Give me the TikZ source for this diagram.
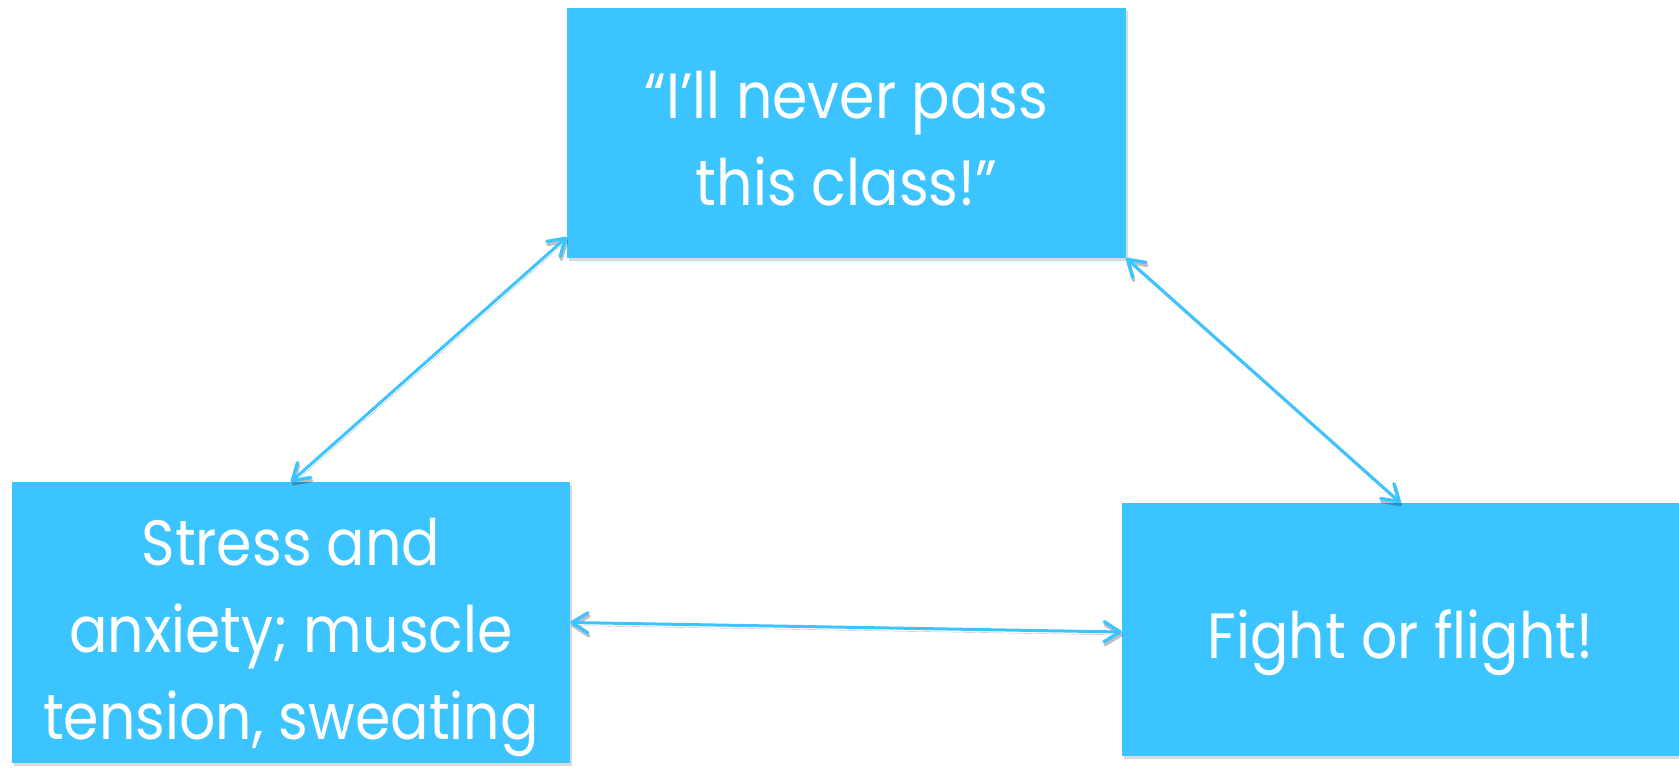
\documentclass[tikz,border=0pt]{standalone}
\usepackage{fontspec}
\setmainfont{Poppins}[FakeStretch=0.89]
\usetikzlibrary{arrows.meta,shadows}
\definecolor{boxblue}{RGB}{59,196,255}
\begin{document}
\begin{tikzpicture}[x=1pt,y=-1pt,
  box/.style={fill=boxblue, draw=none, inner sep=0pt,
    drop shadow={opacity=0.3, shadow xshift=2pt, shadow yshift=-3pt}},
  boxtext/.style={text=white, align=center, inner sep=0pt,
    font=\fontsize{64}{87}\selectfont},
  tipend/.tip={Straight Barb[length=16pt,width=20pt,line width=3.4pt,round]},
  link/.style={draw=boxblue, line width=3pt, line cap=round, tipend-tipend,
    preaction={draw=black, opacity=0.25, transform canvas={xshift=1pt,yshift=-3pt}}}
]
\useasboundingbox (0,0) rectangle (1679,768);
\node[box, minimum width=559pt, minimum height=250pt] (T) at (846.5,133) {};
\node[box, minimum width=558pt, minimum height=281pt] (L) at (291,622.5) {};
\node[box, minimum width=557pt, minimum height=253pt] (R) at (1400.5,629.5) {};
\node[boxtext] (Tt) at ([yshift=-6pt]T.center) {“I’ll never pass\\this class!”};
\node[boxtext] (Lt) at ([yshift=-15pt]L.center) {Stress and\\anxiety; muscle\\tension, sweating};
\node[boxtext] (Rt) at ([yshift=-13pt]R.center) {Fight or flight!};
\draw[link] ([yshift=21pt]T.south west) -- (L.north);
\draw[link] (T.south east) -- (R.north);
\draw[link] (L.east) -- ([yshift=-2.5pt]R.west);
\end{tikzpicture}
\end{document}
